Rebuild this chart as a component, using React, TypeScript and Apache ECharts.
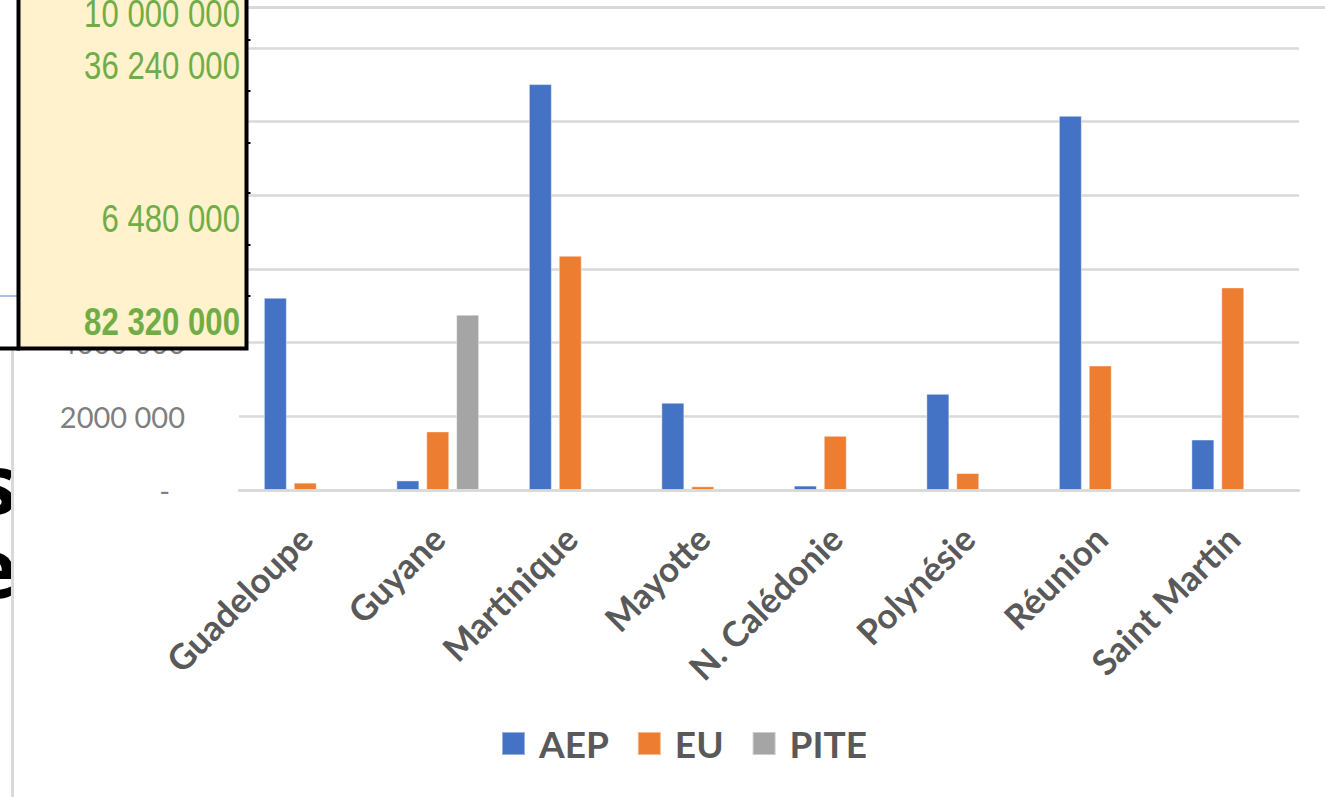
import React, { useEffect, useRef } from "react";
import * as echarts from "echarts";

const categories = ["Guadeloupe", "Guyane", "Martinique", "Mayotte", "N. Calédonie", "Polynésie", "Réunion", "Saint Martin"];
const aepValues = [5220000, 260000, 11020000, 2370000, 120000, 2610000, 10160000, 1370000];
const euValues = [200000, 1590000, 6360000, 100000, 1470000, 460000, 3380000, 5500000];
const piteValues = [null, 4760000, null, null, null, null, null, null];
const seriesNames = ["AEP", "EU", "PITE"];
const seriesColors = ["#4472C4", "#ED7D31", "#A5A5A5"];
const boxLabels = ["10 000 000", "36 240 000", "6 480 000", "82 320 000"];
const boxLabelY = [14, 65.5, 219, 321.5];
const boxLabelBold = [false, false, false, true];
const headingLetters = ["s", "e"];
const headingLetterY = [481, 565];
const tickMarkY = [40, 91, 143, 193, 245, 296];

function fmtY(v: number): string {
  if (v === 0) return "{dash|-}";
  const s = String(Math.round(v));
  return s.slice(0, -3) + " " + s.slice(-3);
}

export default function App() {
  const ref = useRef<HTMLDivElement>(null);
  useEffect(() => {
    if (!ref.current) return;
    const chart = echarts.init(ref.current, undefined, { renderer: "svg" });
    const data = [aepValues, euValues, piteValues];
    const graphics: any[] = [];
    headingLetters.forEach((t, i) => {
      graphics.push({
        type: "text",
        z: -20,
        x: 17,
        y: headingLetterY[i],
        style: {
          text: t,
          align: "right",
          verticalAlign: "middle",
          font: "bold 83px 'Open Sans'",
          fill: "#000000",
        },
      });
    });
    graphics.push({ type: "rect", z: -10, shape: { x: 12, y: 350, width: 1313, height: 447 }, style: { fill: "#ffffff" } });
    graphics.push({ type: "line", z: 50, shape: { x1: 12.5, y1: 350, x2: 12.5, y2: 797 }, style: { stroke: "#D9D9D9", lineWidth: 3 } });
    graphics.push({ type: "line", z: 50, shape: { x1: 0, y1: 296, x2: 18, y2: 296 }, style: { stroke: "#8FAADC", lineWidth: 1.5 } });
    graphics.push({ type: "line", z: 50, shape: { x1: 240, y1: 7.5, x2: 1325, y2: 7.5 }, style: { stroke: "#D9D9D9", lineWidth: 3 } });
    graphics.push({ type: "line", z: 60, shape: { x1: 0, y1: 348.5, x2: 20, y2: 348.5 }, style: { stroke: "#000000", lineWidth: 4 } });
    graphics.push({
      type: "rect",
      z: 60,
      shape: { x: 18.5, y: -5, width: 228, height: 353.5 },
      style: { fill: "#FFF2CC", stroke: "#000000", lineWidth: 4 },
    });
    tickMarkY.forEach((y) => {
      graphics.push({ type: "line", z: 61, shape: { x1: 248, y1: y, x2: 250.5, y2: y }, style: { stroke: "#000000", lineWidth: 2 } });
    });
    boxLabels.forEach((t, i) => {
      graphics.push({
        type: "text",
        z: 62,
        x: 240,
        y: boxLabelY[i],
        scaleX: 0.82,
        style: {
          text: t,
          x: 0,
          y: 0,
          align: "right",
          verticalAlign: "middle",
          font: (boxLabelBold[i] ? "bold " : "") + "38px 'Liberation Sans'",
          fill: "#70AD47",
        },
      });
    });

    chart.setOption({
      animation: false,
      backgroundColor: "#ffffff",
      grid: { left: 239, right: 26, top: 48, bottom: 307, containLabel: false },
      legend: {
        data: seriesNames,
        left: 501,
        top: 725,
        padding: 0,
        icon: "rect",
        itemWidth: 23,
        itemHeight: 23,
        itemGap: 28,
        textStyle: { fontFamily: "Lato", fontWeight: "bold", fontSize: 37, color: "#595959", padding: [0, 0, 0, 9] },
      },
      xAxis: {
        type: "category",
        data: categories,
        axisLine: { lineStyle: { color: "#D9D9D9", width: 2.5 } },
        axisTick: { show: false },
        axisLabel: {
          interval: 0,
          rotate: 45,
          margin: 42,
          fontFamily: "Lato",
          fontWeight: "bold",
          fontSize: 35,
          color: "#595959",
        },
      },
      yAxis: {
        type: "value",
        min: 0,
        max: 12000000,
        interval: 2000000,
        axisLine: { show: false },
        axisTick: { show: false },
        splitLine: { lineStyle: { color: "#D9D9D9", width: 2.5 } },
        axisLabel: {
          margin: 54,
          fontFamily: "Lato",
          fontSize: 29,
          color: "#7F7F7F",
          formatter: fmtY,
          rich: { dash: { fontFamily: "Lato", fontSize: 29, color: "#7F7F7F", padding: [0, 15, 0, 0] } },
        },
      },
      series: seriesNames.map((name, i) => ({
        name,
        type: "bar",
        data: data[i],
        barWidth: 23,
        barGap: "30%",
        itemStyle: { color: seriesColors[i], borderColor: "rgba(255,255,255,0.45)", borderWidth: 1 },
      })),
      graphic: graphics,
    });
    return () => chart.dispose();
  }, []);
  return (
    <div
      ref={ref}
      style={{ position: "fixed", left: 0, top: 0, width: 1325, height: 797, background: "#ffffff" }}
    />
  );
}
